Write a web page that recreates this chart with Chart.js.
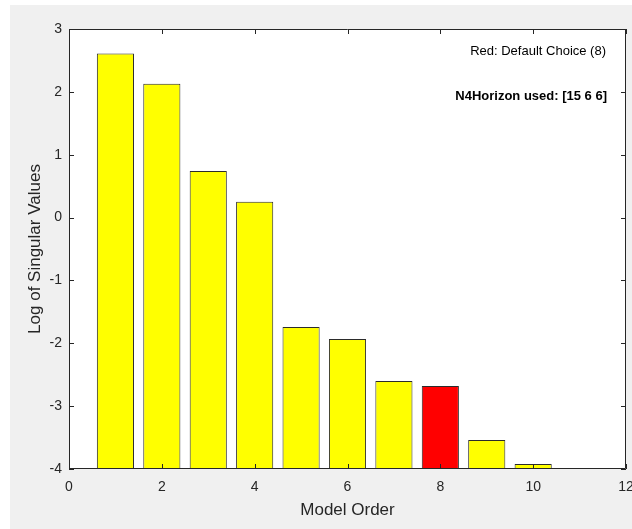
<!DOCTYPE html>
<html>
<head>
<meta charset="utf-8">
<script src="https://cdn.jsdelivr.net/npm/chart.js@4.4.1/dist/chart.umd.min.js"></script>
<style>
  html, body { margin: 0; padding: 0; background: #fff; }
  #wrap { position: absolute; left: 10px; top: 5px; width: 622px; height: 524px; background: #f0f0f0; }
  #svd { display: block; }
</style>
</head>
<body>
<div id="wrap"><canvas id="svd" width="622" height="524"></canvas></div>
<script>
// model orders and log singular values
const orders = [1, 2, 3, 4, 5, 6, 7, 8, 9, 10];
const logSV = [2.61, 2.13, 0.74, 0.25, -1.74, -1.93, -2.60, -2.68, -3.54, -3.92];
const defaultOrder = 8;
const xTicks = [0, 2, 4, 6, 8, 10, 12];
const yTicks = [-4, -3, -2, -1, 0, 1, 2, 3];
const notes = ['Red: Default Choice (8)', 'N4Horizon used: [15 6 6]'];

const yMin = -4, yMax = 3;
const axisColor = '#262626';
const font = 'Liberation Sans, Arial, Helvetica, sans-serif';

// white axes face, inward ticks on all four sides, box and text notes
const boxPlugin = {
  id: 'box',
  beforeDatasetsDraw(chart) {
    const {ctx, chartArea: a} = chart;
    ctx.save();
    ctx.fillStyle = '#ffffff';
    ctx.fillRect(a.left, a.top, a.right - a.left, a.bottom - a.top);
    ctx.restore();
  },
  afterDatasetsDraw(chart) {
    const {ctx, chartArea: a, scales} = chart;
    const len = 5;
    ctx.save();
    ctx.strokeStyle = axisColor;
    ctx.lineWidth = 1;
    ctx.beginPath();
    ctx.rect(a.left + 0.5, a.top + 0.5, a.right - a.left - 1, a.bottom - a.top - 1);
    xTicks.forEach(v => {
      const px = Math.round(scales.x.getPixelForValue(v)) + 0.5;
      ctx.moveTo(px, a.bottom); ctx.lineTo(px, a.bottom - len);
      ctx.moveTo(px, a.top); ctx.lineTo(px, a.top + len);
    });
    yTicks.forEach(v => {
      const py = Math.round(scales.y.getPixelForValue(v)) + 0.5;
      ctx.moveTo(a.left, py); ctx.lineTo(a.left + len, py);
      ctx.moveTo(a.right, py); ctx.lineTo(a.right - len, py);
    });
    ctx.stroke();

    ctx.fillStyle = '#000';
    ctx.textAlign = 'right';
    ctx.textBaseline = 'middle';
    ctx.font = '13px ' + font;
    ctx.fillText(notes[0], a.right - 20, a.top + 22);
    ctx.font = 'bold 13px ' + font;
    ctx.fillText(notes[1], a.right - 19, a.top + 67);
    ctx.restore();
  }
};

new Chart(document.getElementById('svd'), {
  type: 'bar',
  data: {
    datasets: [{
      data: orders.map((o, i) => ({x: o, y: [yMin, logSV[i]]})),
      backgroundColor: orders.map(o => o === defaultOrder ? '#ff0000' : '#ffff00'),
      borderColor: '#2b2b2b',
      borderWidth: 1,
      borderSkipped: false,
      barPercentage: 0.8,
      categoryPercentage: 1.0
    }]
  },
  options: {
    responsive: false,
    animation: false,
    devicePixelRatio: 1,
    layout: { padding: { left: 0, right: 6, top: 24, bottom: 0 } },
    plugins: {
      legend: { display: false },
      tooltip: { enabled: false }
    },
    scales: {
      x: {
        type: 'linear',
        min: 0, max: 12,
        offset: false,
        afterBuildTicks: s => { s.ticks = xTicks.map(v => ({value: v})); },
        // let the "12" label run off the edge like in the original figure
        afterFit: s => { s.height = 60; s.paddingLeft = 0; s.paddingRight = 0; },
        grid: { display: false, drawTicks: false, offset: false },
        border: { display: false },
        ticks: { color: axisColor, font: { family: font, size: 14 }, padding: 10, maxRotation: 0 },
        title: { display: true, text: 'Model Order', color: axisColor,
                 font: { family: font, size: 17 }, padding: { top: 0, bottom: 8 } }
      },
      y: {
        min: yMin, max: yMax,
        afterBuildTicks: s => { s.ticks = yTicks.map(v => ({value: v})); },
        afterFit: s => { s.width = 59; s.paddingTop = 0; s.paddingBottom = 0; },
        grid: { display: false, drawTicks: false },
        border: { display: false },
        ticks: { color: axisColor, font: { family: font, size: 14 }, padding: 7 },
        title: { display: true, text: 'Log of Singular Values', color: axisColor,
                 font: { family: font, size: 17 }, padding: { top: 15, bottom: 0 } }
      }
    }
  },
  plugins: [boxPlugin]
});
</script>
</body>
</html>
